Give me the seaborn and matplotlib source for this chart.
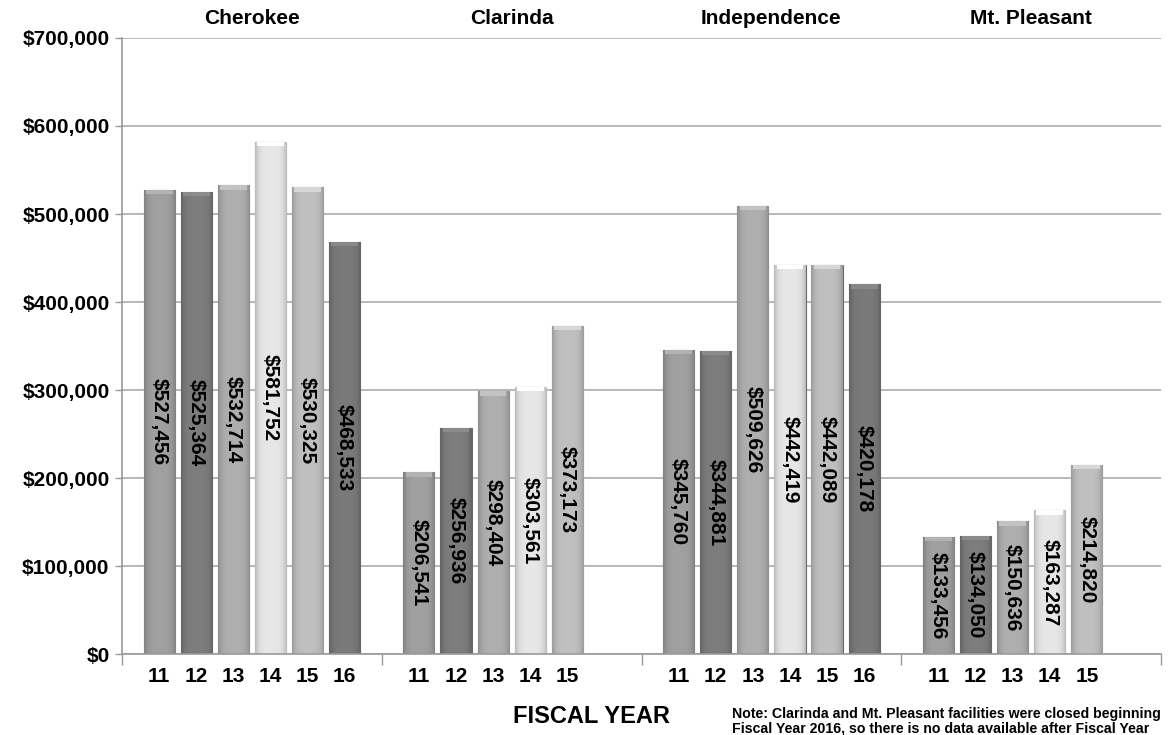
import numpy as np
import pandas as pd
import matplotlib
matplotlib.use("Agg")
import matplotlib.pyplot as plt
import matplotlib.ticker as mticker
import seaborn as sns

sns.set_theme(style="white")
plt.rcParams["font.family"] = ["Liberation Sans", "DejaVu Sans"]
plt.rcParams["font.weight"] = "bold"
plt.rcParams["text.color"] = "black"

# data
groups = ["Cherokee", "Clarinda", "Independence", "Mt. Pleasant"]
years = ["11", "12", "13", "14", "15", "16"]
cherokee = [527456, 525364, 532714, 581752, 530325, 468533]
clarinda = [206541, 256936, 298404, 303561, 373173]
independence = [345760, 344881, 509626, 442419, 442089, 420178]
mt_pleasant = [133456, 134050, 150636, 163287, 214820]

year_colors = {
    "11": "#979797",
    "12": "#767676",
    "13": "#a5a5a5",
    "14": "#dadada",
    "15": "#b5b5b5",
    "16": "#737373",
}

rows = []
for g, vals in enumerate([cherokee, clarinda, independence, mt_pleasant]):
    for j, v in enumerate(vals):
        rows.append({"group": groups[g], "year": years[j], "value": v,
                     "pos": 7 * g + j + 1})
df = pd.DataFrame(rows)

fig = plt.figure(figsize=(11.69, 7.35), dpi=100)
ax = fig.add_axes([0.1044, 0.1102, 0.8888, 0.8381])

sns.barplot(data=df, x="pos", y="value", hue="year", palette=year_colors,
            native_scale=True, dodge=False, width=0.84, legend=False,
            saturation=1, ax=ax, zorder=2)

# shaded look on each bar
for p in ax.patches:
    x0, w, h = p.get_x(), p.get_width(), p.get_height()
    if h <= 0:
        continue
    base = np.array(matplotlib.colors.to_rgb(p.get_facecolor()))
    t = np.linspace(-1, 1, 40)
    shade = 1.06 - 0.20 * t ** 4
    grad = np.clip(base[None, :] * shade[:, None], 0, 1)[None, :, :]
    im = ax.imshow(grad, extent=(x0, x0 + w, 0, h), aspect="auto", zorder=2.5,
                   interpolation="bilinear")
    im.set_clip_path(p)
    # light bevel at the top
    top = np.clip(base * 1.18, 0, 1)
    ax.fill_between([x0 + 0.06, x0 + w - 0.06], h - 5000, h, color=top,
                    zorder=2.6, linewidth=0)
    p.set_edgecolor("#6a6a6a")
    p.set_linewidth(0.8)

for _, r in df.iterrows():
    ax.text(r["pos"], r["value"] / 2, f"${r['value']:,}", rotation=-90,
            ha="center", va="center", fontsize=15, fontweight="bold",
            color="black", zorder=4)

ax.set_xlim(0, 28)
ax.set_ylim(0, 700000)
ax.yaxis.set_major_locator(mticker.MultipleLocator(100000))
ax.yaxis.set_major_formatter(mticker.FuncFormatter(lambda v, _: f"${v:,.0f}"))
ax.grid(axis="y", color="#ababab", linewidth=1.2, zorder=0)
ax.set_axisbelow(True)

ax.set_xticks(df["pos"])
ax.set_xticklabels(df["year"])
ax.set_xticks([0, 7, 14, 21, 28], minor=True)
ax.tick_params(axis="x", which="major", length=0, pad=9, labelsize=15,
               labelcolor="black")
ax.tick_params(axis="x", which="minor", length=8, width=1, color="#999999",
               direction="out", bottom=True)
ax.tick_params(axis="y", length=5, width=1, color="#999999", direction="out",
               left=True, pad=4, labelsize=15, labelcolor="black")
for lbl in ax.get_xticklabels() + ax.get_yticklabels():
    lbl.set_fontweight("bold")

for s in ["top", "right"]:
    ax.spines[s].set_visible(False)
for s in ["left", "bottom"]:
    ax.spines[s].set_color("#999999")
    ax.spines[s].set_linewidth(1.2)

ax.set_xlabel("")
ax.set_ylabel("")

for g, name in enumerate(groups):
    ax.text(7 * g + 3.5, 1.032, name, transform=ax.get_xaxis_transform(),
            ha="center", va="center", fontsize=15, fontweight="bold")

fig.text(0.506, 0.0245, "FISCAL YEAR", ha="center", va="center",
         fontsize=17, fontweight="bold")
fig.text(0.626, 0.0184,
         "Note: Clarinda and Mt. Pleasant facilities were closed beginning\n"
         "Fiscal Year 2016, so there is no data available after Fiscal Year",
         ha="left", va="center", fontsize=10.2, fontweight="bold",
         linespacing=1.0)

fig.savefig("out.png", dpi=100)
